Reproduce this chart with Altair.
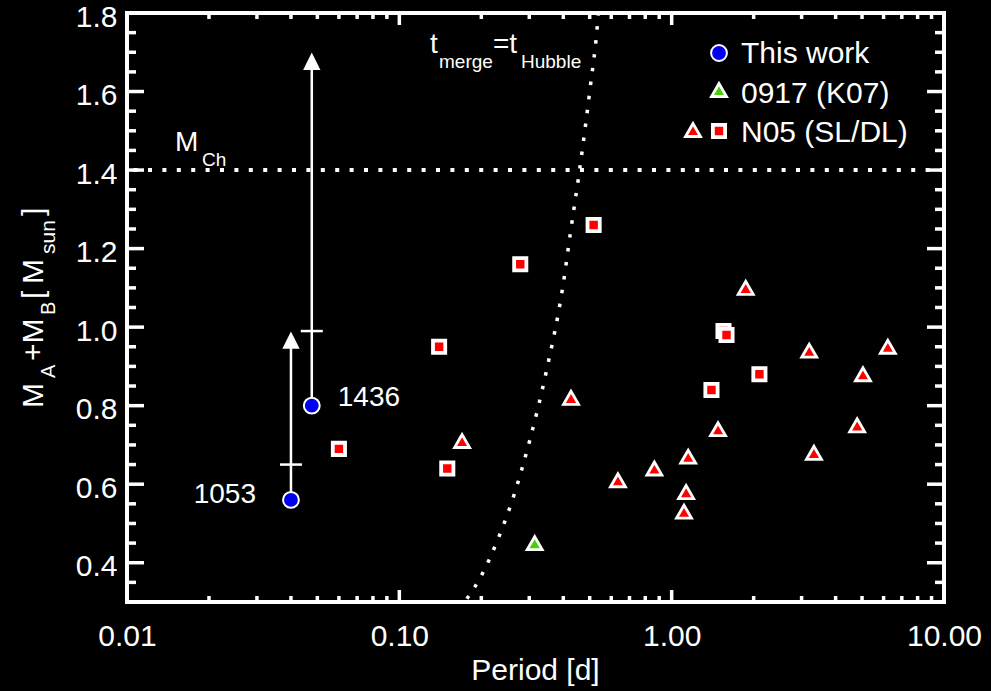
import altair as alt
import pandas as pd

# ---------------- data ----------------
# Double white dwarfs from this work: period [d], total mass and mass limits
work_name = ["1053", "1436"]
work_period = [0.040, 0.0477]
work_mass = [0.56, 0.80]
work_mass_mark = [0.65, 0.99]
work_mass_upper = [0.99, 1.70]

# 0917 (K07)
k07_period = [0.314]
k07_mass = [0.45]

# N05 single-lined (triangles)
n05_sl_period = [0.17, 0.427, 0.635, 0.864, 1.15, 1.13, 1.11, 1.48, 1.87, 3.20, 3.33, 4.80, 5.04, 6.22]
n05_sl_mass = [0.71, 0.82, 0.61, 0.64, 0.67, 0.58, 0.53, 0.74, 1.10, 0.94, 0.68, 0.75, 0.88, 0.95]

# N05 double-lined (squares)
n05_dl_period = [0.060, 0.140, 0.150, 0.278, 0.517, 1.40, 1.55, 1.59, 2.10]
n05_dl_mass = [0.69, 0.95, 0.64, 1.16, 1.26, 0.84, 0.99, 0.98, 0.88]

# Chandrasekhar mass
m_ch = [1.4]

# merger time equal to a Hubble time
hubble_period = [0.177, 0.200, 0.232, 0.263, 0.301, 0.347, 0.399, 0.426, 0.459, 0.503, 0.532, 0.538]
hubble_mass = [0.308, 0.367, 0.466, 0.570, 0.711, 0.889, 1.106, 1.246, 1.400, 1.614, 1.759, 1.800]

# axis ticks
x_label_values = [0.01, 0.1, 1.0, 10.0]
y_label_values = [0.4, 0.6, 0.8, 1.0, 1.2, 1.4, 1.6, 1.8]
x_minor_values = [m * 10.0 ** e for e in (-2, -1, 0) for m in range(2, 10)]
y_minor_values = [round(0.35 + 0.05 * i, 2) for i in range(29)]
y_minor_values = [v for v in y_minor_values if round(v, 2) not in y_label_values]

# ---------------- layout ----------------
W, H = 817, 589
FONT = "Liberation Sans"
WHITE = "white"
CIRCLE_SIZE = 250

xs = alt.Scale(type="log", domain=[0.01, 10], nice=False)
ys = alt.Scale(domain=[0.3, 1.8], nice=False, zero=False)

x_axis = alt.Axis(values=x_label_values, format=".2f", title=None, ticks=False, tickSize=0,
                  domain=False, grid=False, labelPadding=19, labelFlush=False,
                  labelOverlap=False, labelBound=False)
y_axis = alt.Axis(values=y_label_values, format=".1f", title=None, ticks=False, tickSize=0,
                  domain=False, grid=False, labelPadding=10, labelOffset=4,
                  labelFlush=False, labelOverlap=False)


def X(field="P", **kw):
    return alt.X(f"{field}:Q", scale=xs, axis=x_axis, **kw)


def Y(field="M", **kw):
    return alt.Y(f"{field}:Q", scale=ys, axis=y_axis, **kw)


work = pd.DataFrame({"name": work_name, "P": work_period, "M": work_mass,
                     "Mmark": work_mass_mark, "Mup": work_mass_upper})
k07 = pd.DataFrame({"P": k07_period, "M": k07_mass})
sl = pd.DataFrame({"P": n05_sl_period, "M": n05_sl_mass})
dl = pd.DataFrame({"P": n05_dl_period, "M": n05_dl_mass})
hub = pd.DataFrame({"P": hubble_period, "M": hubble_mass})
mch = pd.DataFrame({"M": m_ch})
xmaj = pd.DataFrame({"P": x_label_values})
xmin = pd.DataFrame({"P": x_minor_values})
ymaj = pd.DataFrame({"M": y_label_values})
ymin = pd.DataFrame({"M": y_minor_values})

layers = []

# inward ticks on all four sides
tick_w = 3.5
for df, ln in ((xmaj, 12), (xmin, 6)):
    layers.append(alt.Chart(df).mark_rule(color=WHITE, strokeWidth=tick_w)
                  .encode(x=X(), y=alt.value(H), y2=alt.value(H - ln)))
    layers.append(alt.Chart(df).mark_rule(color=WHITE, strokeWidth=tick_w)
                  .encode(x=X(), y=alt.value(0), y2=alt.value(ln)))
for df, ln in ((ymaj, 17), (ymin, 9)):
    layers.append(alt.Chart(df).mark_rule(color=WHITE, strokeWidth=tick_w)
                  .encode(y=Y(), x=alt.value(0), x2=alt.value(ln)))
    layers.append(alt.Chart(df).mark_rule(color=WHITE, strokeWidth=tick_w)
                  .encode(y=Y(), x=alt.value(W), x2=alt.value(W - ln)))

# Chandrasekhar mass line
layers.append(alt.Chart(mch).mark_rule(color=WHITE, strokeWidth=4, strokeDash=[4, 10.4])
              .encode(y=Y()))

# t_merge = t_Hubble curve
layers.append(alt.Chart(hub).mark_line(color=WHITE, strokeWidth=3.5, strokeDash=[3.5, 10.5],
                                       interpolate="monotone", clip=True)
              .encode(x=X(), y=Y()))

# arrows: lower limit -> upper limit, with a cross bar
layers.append(alt.Chart(work).mark_rule(color=WHITE, strokeWidth=2.5, y2Offset=10)
              .encode(x=X(), y=Y(), y2="Mup:Q"))
layers.append(alt.Chart(work).mark_rule(color=WHITE, strokeWidth=2.5, xOffset=-11, x2Offset=11)
              .encode(x=X(), x2="P:Q", y=Y("Mmark")))
layers.append(alt.Chart(work).mark_point(shape="M0,-1L1,1L-1,1Z", size=300, filled=True,
                                         color=WHITE, opacity=1, yOffset=9)
              .encode(x=X(), y=Y("Mup")))

# N05 double-lined: red squares in white boxes
layers.append(alt.Chart(dl).mark_point(shape="square", size=150, filled=True, fill="#ff0000",
                                       stroke=WHITE, strokeWidth=3.8, opacity=1)
              .encode(x=X(), y=Y()))
# N05 single-lined: red triangles
layers.append(alt.Chart(sl).mark_point(shape="triangle-up", size=225, filled=True, fill="#ff0000",
                                       stroke=WHITE, strokeWidth=2.8, strokeJoin="miter", opacity=1)
              .encode(x=X(), y=Y()))
# K07: green triangle
layers.append(alt.Chart(k07).mark_point(shape="triangle-up", size=225, filled=True, fill="#4ccc10",
                                        stroke=WHITE, strokeWidth=2.8, strokeJoin="miter", opacity=1)
              .encode(x=X(), y=Y()))
# this work: blue circles
layers.append(alt.Chart(work).mark_point(shape="circle", size=CIRCLE_SIZE, filled=True, fill="#0000ee",
                                         stroke=WHITE, strokeWidth=2, opacity=1)
              .encode(x=X(), y=Y()))

# object names
layers.append(alt.Chart(work[work["name"] == "1436"]).mark_text(
    font=FONT, fontSize=28, color=WHITE, align="left", baseline="alphabetic", dx=26, dy=0)
    .encode(x=X(), y=Y(), text="name:N"))
layers.append(alt.Chart(work[work["name"] == "1053"]).mark_text(
    font=FONT, fontSize=28, color=WHITE, align="right", baseline="alphabetic", dx=-35, dy=3)
    .encode(x=X(), y=Y(), text="name:N"))


def label(text, x, y, size, angle=0, align="left"):
    return (alt.Chart(pd.DataFrame({"k": [0]}))
            .mark_text(text=text, font=FONT, fontSize=size, color=WHITE, align=align,
                       baseline="alphabetic", angle=angle)
            .encode(x=alt.value(x), y=alt.value(y)))


# M_Ch annotation
layers.append(label("M", 48, 138, 28))
layers.append(label("Ch", 75, 153, 19))
# t_merge = t_Hubble annotation
layers.append(label("t", 303, 40, 28))
layers.append(label("merge", 312, 55, 19))
layers.append(label("=t", 366, 40, 28))
layers.append(label("Hubble", 394, 55, 19))

# legend
layers.append(alt.Chart(pd.DataFrame({"k": [0]})).mark_point(
    shape="circle", size=CIRCLE_SIZE, filled=True, fill="#0000ee", stroke=WHITE, strokeWidth=2, opacity=1)
    .encode(x=alt.value(592), y=alt.value(40)))
layers.append(alt.Chart(pd.DataFrame({"k": [0]})).mark_point(
    shape="triangle-up", size=225, filled=True, fill="#4ccc10", stroke=WHITE, strokeWidth=2.8,
    strokeJoin="miter", opacity=1)
    .encode(x=alt.value(592), y=alt.value(77)))
layers.append(alt.Chart(pd.DataFrame({"k": [0]})).mark_point(
    shape="triangle-up", size=225, filled=True, fill="#ff0000", stroke=WHITE, strokeWidth=2.8,
    strokeJoin="miter", opacity=1)
    .encode(x=alt.value(566), y=alt.value(117)))
layers.append(alt.Chart(pd.DataFrame({"k": [0]})).mark_point(
    shape="square", size=150, filled=True, fill="#ff0000", stroke=WHITE, strokeWidth=3.8, opacity=1)
    .encode(x=alt.value(592), y=alt.value(118)))
layers.append(label("This work", 614, 50, 30))
layers.append(label("0917 (K07)", 614, 90, 30))
layers.append(label("N05 (SL/DL)", 614, 129, 30))

# axis titles
layers.append(label("Period [d]", W / 2, 667, 30, align="center"))
layers.append(label("M", -84, 395, 30, angle=270))
layers.append(label("A", -72, 365, 20, angle=270))
layers.append(label("+M", -84, 348, 30, angle=270))
layers.append(label("B", -72, 302, 20, angle=270))
layers.append(label("[", -84, 286, 30, angle=270))
layers.append(label("M", -84, 271, 30, angle=270))
layers.append(label("sun", -72, 241, 21, angle=270))
layers.append(label("]", -84, 203, 30, angle=270))

chart = (alt.layer(*layers)
         .properties(width=W, height=H,
                     autosize=alt.AutoSizeParams(type="none"),
                     padding={"left": 127, "top": 13, "right": 47, "bottom": 89})
         .configure(background="black")
         .configure_view(stroke=WHITE, strokeWidth=4)
         .configure_axis(labelColor=WHITE, labelFont=FONT, labelFontSize=30))

chart.save("out.html", embed_options={"renderer": "svg", "actions": False})
